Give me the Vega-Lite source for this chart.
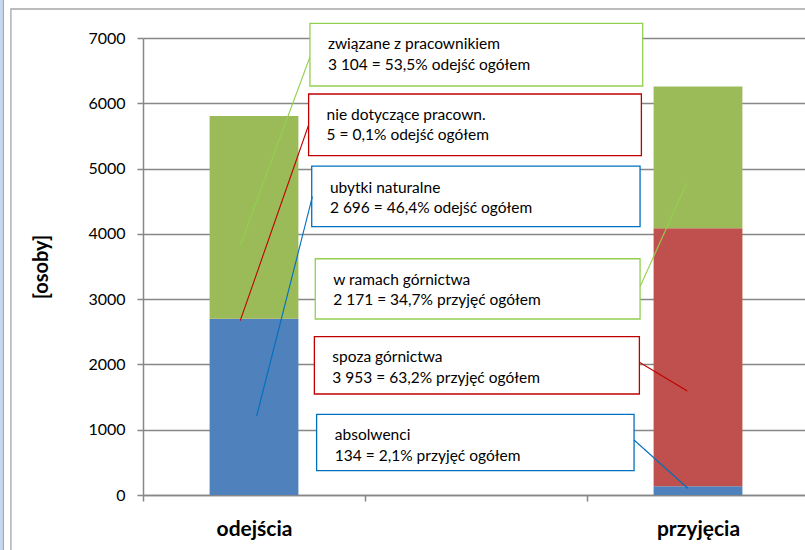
{
  "$schema": "https://vega.github.io/schema/vega-lite/v6.json",
  "width": 662,
  "height": 457,
  "autosize": {"type": "none"},
  "padding": {"left": 143, "top": 38, "right": 0, "bottom": 55},
  "background": "white",
  "config": {"view": {"stroke": null}, "font": "Lato"},
  "datasets": {
    "slupki": [
      {"kategoria": "odejścia", "grupa": "ubytki naturalne", "poz": 1, "osoby": 2696},
      {"kategoria": "odejścia", "grupa": "nie dotyczące pracown.", "poz": 2, "osoby": 5},
      {"kategoria": "odejścia", "grupa": "związane z pracownikiem", "poz": 3, "osoby": 3104},
      {"kategoria": "przyjęcia", "grupa": "absolwenci", "poz": 1, "osoby": 134},
      {"kategoria": "przyjęcia", "grupa": "spoza górnictwa", "poz": 2, "osoby": 3953},
      {"kategoria": "przyjęcia", "grupa": "w ramach górnictwa", "poz": 3, "osoby": 2171}
    ],
    "opisy": [
      {"opis": "związane z pracownikiem\n3 104 = 53,5% odejść ogółem", "poz": 3, "bx1": 0.752, "bx2": 2.251, "by1": 7225, "by2": 6265, "tx": 0.833, "ty": 6831, "lx1": 0.752, "ly1": 6709, "lx2": 0.437, "ly2": 3819},
      {"opis": "nie dotyczące pracown.\n5 = 0,1% odejść ogółem", "poz": 2, "bx1": 0.746, "bx2": 2.245, "by1": 6142, "by2": 5197, "tx": 0.827, "ty": 5744, "lx1": 0.746, "ly1": 5667, "lx2": 0.438, "ly2": 2670},
      {"opis": "ubytki naturalne\n2 696 = 46,4% odejść ogółem", "poz": 1, "bx1": 0.760, "bx2": 2.239, "by1": 5039, "by2": 4110, "tx": 0.842, "ty": 4630, "lx1": 0.763, "ly1": 4569, "lx2": 0.512, "ly2": 1210},
      {"opis": "w ramach górnictwa\n2 171 = 34,7% przyjęć ogółem", "poz": 3, "bx1": 0.776, "bx2": 2.239, "by1": 3619, "by2": 2696, "tx": 0.857, "ty": 3217, "lx1": 2.239, "ly1": 3191, "lx2": 2.449, "ly2": 4774},
      {"opis": "spoza górnictwa\n3 953 = 63,2% przyjęć ogółem", "poz": 2, "bx1": 0.772, "bx2": 2.236, "by1": 2425, "by2": 1547, "tx": 0.853, "ty": 2033, "lx1": 2.236, "ly1": 2033, "lx2": 2.452, "ly2": 1593},
      {"opis": "absolwenci\n134 = 2,1% przyjęć ogółem", "poz": 1, "bx1": 0.782, "bx2": 2.212, "by1": 1236, "by2": 372, "tx": 0.864, "ty": 842, "lx1": 2.212, "ly1": 842, "lx2": 2.454, "ly2": 103}
    ]
  },
  "layer": [
    {
      "data": {"name": "slupki"},
      "mark": {"type": "bar", "width": {"band": 0.4}},
      "encoding": {
        "x": {
          "field": "kategoria",
          "type": "nominal",
          "sort": null,
          "scale": {"domain": ["odejścia", " ", "przyjęcia"], "range": [0, 666], "paddingInner": 0, "paddingOuter": 0},
          "axis": {
            "title": null,
            "labelAngle": 0,
            "labelFontSize": 21,
            "labelFontWeight": "bold",
            "labelColor": "#000000",
            "labelPadding": 17,
            "tickBand": "extent",
            "tickSize": 6,
            "tickColor": "#878787",
            "tickWidth": 1.5,
            "domainColor": "#878787",
            "domainWidth": 1.5,
            "grid": false
          }
        },
        "y": {
          "field": "osoby",
          "type": "quantitative",
          "stack": "zero",
          "scale": {"domain": [0, 7000], "nice": false},
          "axis": {
            "title": "[osoby]",
            "values": [0, 1000, 2000, 3000, 4000, 5000, 6000, 7000],
            "format": "d",
            "grid": true,
            "gridColor": "#878787",
            "gridWidth": 1.5,
            "domainColor": "#878787",
            "domainWidth": 1.5,
            "tickColor": "#878787",
            "tickSize": 6,
            "tickWidth": 1.5,
            "labelFontSize": 16,
            "labelColor": "#000000",
            "labelPadding": 12,
            "titleFontSize": 20,
            "titleFontWeight": "bold",
            "titleColor": "#000000",
            "titlePadding": 36
          }
        },
        "color": {"field": "poz", "type": "ordinal", "scale": {"domain": [1, 2, 3], "range": ["#4f81bd", "#c0504d", "#9bbb59"]}, "legend": null},
        "order": {"field": "poz", "type": "quantitative", "sort": "ascending"}
      }
    },
    {
      "data": {"name": "opisy"},
      "layer": [
        {
          "data": {"values": [{}]},
          "mark": {"type": "rect", "fill": "#c6d8ef"},
          "encoding": {
            "x": {"datum": -0.75, "type": "quantitative", "scale": {"domain": [0, 3], "range": [0, 666], "nice": false, "zero": false}, "axis": null},
            "x2": {"datum": -0.631},
            "y": {"datum": 8000},
            "y2": {"datum": -1500}
          }
        },
        {
          "data": {"values": [{}]},
          "mark": {"type": "rule", "stroke": "#a6a6a6", "strokeWidth": 1.2},
          "encoding": {
            "x": {"datum": -0.629, "type": "quantitative"},
            "y": {"datum": 8000},
            "y2": {"datum": -1500}
          }
        },
        {
          "data": {"values": [{}]},
          "mark": {"type": "rect", "fill": "transparent", "stroke": "#a6a6a6", "strokeWidth": 1.3},
          "encoding": {
            "x": {"datum": -0.595, "type": "quantitative"},
            "x2": {"datum": 3.3},
            "y": {"datum": 7444},
            "y2": {"datum": -1500}
          }
        },
        {
          "mark": {"type": "rect", "fill": "white", "strokeWidth": 1.3},
          "encoding": {
            "x": {"field": "bx1", "type": "quantitative"},
            "x2": {"field": "bx2"},
            "y": {"field": "by1", "type": "quantitative"},
            "y2": {"field": "by2"},
            "stroke": {"field": "poz", "type": "ordinal", "scale": {"domain": [1, 2, 3], "range": ["#0070c0", "#c00000", "#92d050"]}, "legend": null}
          }
        },
        {
          "mark": {"type": "text", "align": "left", "baseline": "alphabetic", "fontSize": 15.5, "lineHeight": 20.5, "lineBreak": "\n", "color": "#000000"},
          "encoding": {
            "x": {"field": "tx", "type": "quantitative"},
            "y": {"field": "ty", "type": "quantitative"},
            "text": {"field": "opis"}
          }
        },
        {
          "mark": {"type": "rule", "strokeWidth": 1.1},
          "encoding": {
            "x": {"field": "lx1", "type": "quantitative"},
            "y": {"field": "ly1", "type": "quantitative"},
            "x2": {"field": "lx2"},
            "y2": {"field": "ly2"},
            "stroke": {"field": "poz", "type": "ordinal", "legend": null}
          }
        }
      ]
    }
  ],
  "resolve": {"scale": {"x": "independent"}, "axis": {"x": "independent"}}
}
